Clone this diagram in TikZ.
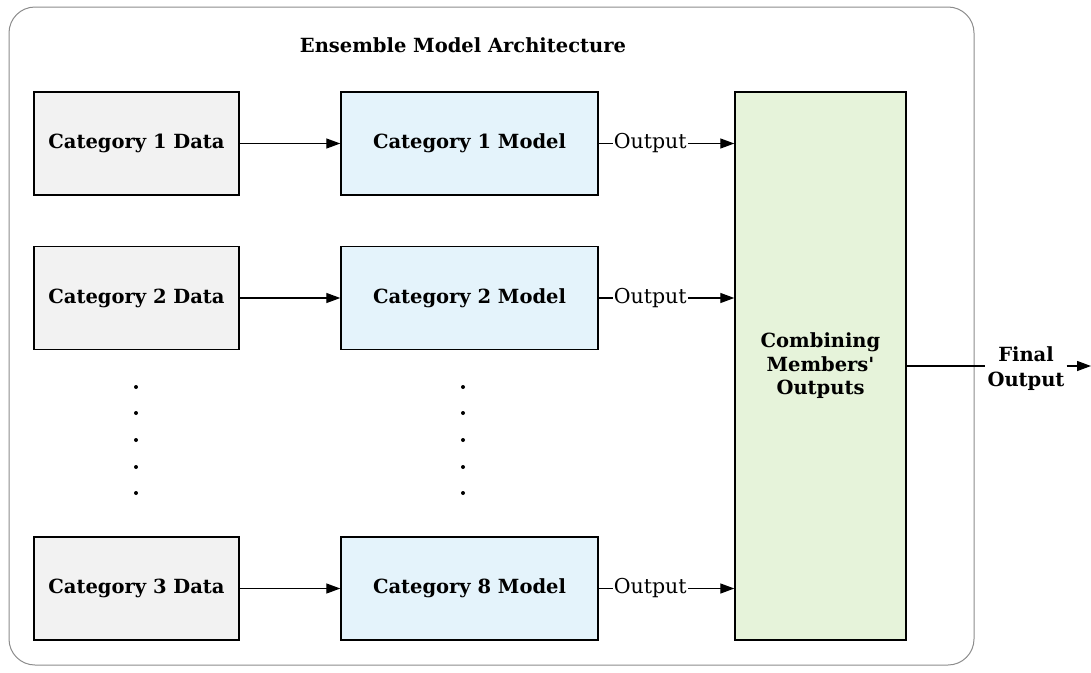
\documentclass[tikz,border=0pt]{standalone}
\usepackage{fontspec}
\setmainfont{DejaVu Serif}
\usetikzlibrary{arrows.meta}
\definecolor{datafill}{HTML}{F2F2F2}
\definecolor{modelfill}{HTML}{E4F3FB}
\definecolor{combfill}{HTML}{E6F3DA}
\definecolor{framegray}{HTML}{8C8C8C}
\tikzset{
  boldtext/.style={font=\fontsize{19.5}{24}\selectfont\bfseries},
  databox/.style={draw=black, line width=1.4pt, fill=datafill, minimum width=205pt, minimum height=103pt, boldtext},
  modelbox/.style={draw=black, line width=1.4pt, fill=modelfill, minimum width=257pt, minimum height=103pt, boldtext},
  combbox/.style={draw=black, line width=1.4pt, fill=combfill, minimum width=171pt, minimum height=548pt, align=center, font=\fontsize{19.5}{23.5}\selectfont\bfseries},
  flow/.style={line width=1.3pt, -{Triangle[length=14pt,width=10pt]}},
  outlabel/.style={fill=white, inner sep=1pt, font=\fontsize{20.5}{24}\selectfont},
  vdot/.style={circle, fill=black, inner sep=0pt, minimum size=4pt},
}
\begin{document}
\begin{tikzpicture}[x=1pt, y=-1pt]
\useasboundingbox (0,0) rectangle (1091,672);
% outer frame
\draw[framegray, line width=1pt, rounded corners=26pt] (9,7) rectangle (974,665);
\node[boldtext] (title) at (463,45) {Ensemble Model Architecture};

% data sources
\node[databox] (d1) at (136.5,143.5) {Category 1 Data};
\node[databox] (d2) at (136.5,298) {Category 2 Data};
\node[databox] (d3) at (136.5,588.5) {Category 3 Data};

% member models
\node[modelbox] (m1) at (469.5,143.5) {Category 1 Model};
\node[modelbox] (m2) at (469.5,298) {Category 2 Model};
\node[modelbox] (m3) at (469.5,588.5) {Category 8 Model};

% combiner
\node[combbox] (comb) at (820.5,366) {Combining\\Members\textquotesingle\\Outputs};

% ellipsis dots
\foreach \y [count=\i] in {387,413,440,467,493} {
  \node[vdot] (ld\i) at (136,\y) {};
  \node[vdot] (rd\i) at (463,\y) {};
}

% data to model
\draw[flow] (d1) -- (m1);
\draw[flow] (d2) -- (m2);
\draw[flow] (d3) -- (m3);

% model outputs to combiner
\foreach \m in {m1,m2,m3} {
  \draw[flow] (\m.east) -- node[outlabel, pos=0.38] {Output} (\m.east -| comb.west);
}

% final output
\node[font=\fontsize{19.5}{25}\selectfont\bfseries, align=center, inner sep=2pt] (final) at (1026,369) {Final\\Output};
\coordinate (fend) at (1091,366);
\draw[line width=2.6pt] (comb.east) -- (comb.east -| final.west);
\draw[flow] (final.east |- comb.east) -- (fend);
\end{tikzpicture}
\end{document}
